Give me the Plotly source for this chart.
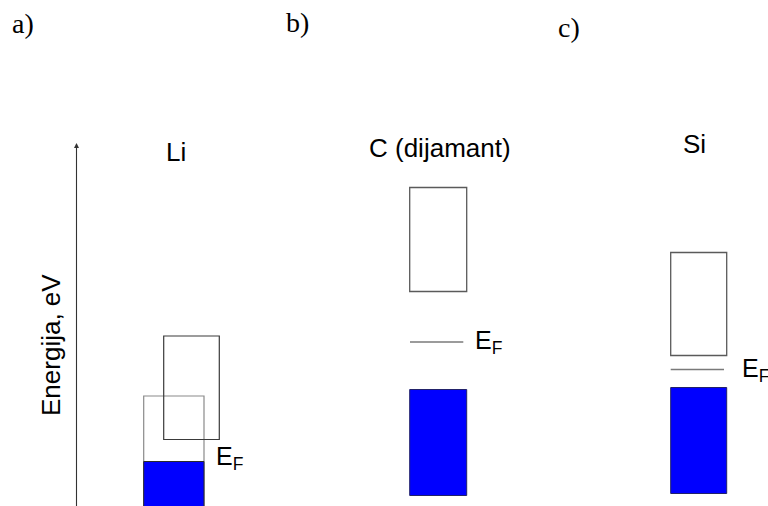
import plotly.graph_objects as go

# ---------------- data (energies in arbitrary units, 0 = bottom of diagram) ----------------
materials = ["Li", "C (dijamant)", "Si"]
panel_tags = ["a)", "b)", "c)"]

# valence (filled / lower) band of each material
valence_bottom = [-0.1, 0.21, 0.25]
valence_top = [2.2, 2.33, 2.37]
# filled part of the valence band (Li half-filled)
filled_top = [0.89, 2.33, 2.37]
# conduction (empty / upper) band
conduction_bottom = [1.33, 4.29, 3.01]
conduction_top = [3.4, 6.37, 5.07]
# Fermi level
fermi_level = [0.89, 3.28, 2.73]

axis_top = 7.26
axis_label = "Energija, eV"

# ---------------- layout constants (pixels on x, energy on y) ----------------
W, H = 768, 506
PX_PER_E = 50.0
Y_MAX = H / PX_PER_E

val_x = [(143.7, 204.0), (409.7, 466.7), (670.7, 726.7)]
cond_x = [(163.7, 219.3), (409.7, 466.7), (670.7, 726.7)]
fermi_line_x = [None, (410.0, 463.3), (670.7, 724.0)]
fermi_label_x = [214, 473, 740]
fermi_label_dy = [0.08, 0.0, 0.0]
name_x = [176, 440, 694]
name_y_px = [152, 148, 144]
tag_x = [23, 297, 569]
tag_y_px = [23, 22, 27]
axis_x = 76.5

BLUE = "#0000ff"
SANS = "Liberation Sans, Arial, sans-serif"
SERIF = "Liberation Serif, Times New Roman, serif"

fig = go.Figure()
shapes = []
annotations = []

for i, m in enumerate(materials):
    vx0, vx1 = val_x[i]
    cx0, cx1 = cond_x[i]
    if i == 0:
        # Li: 2s band partially filled, overlapping 2p band
        shapes.append(dict(type="rect", xref="x", yref="y", x0=vx0, x1=vx1,
                           y0=valence_bottom[i], y1=valence_top[i],
                           line=dict(color="#8a8a8a", width=1.2), fillcolor="rgba(0,0,0,0)"))
        shapes.append(dict(type="rect", xref="x", yref="y", x0=vx0, x1=vx1,
                           y0=valence_bottom[i], y1=filled_top[i],
                           line=dict(color="#2a2a2a", width=1), fillcolor=BLUE))
        shapes.append(dict(type="rect", xref="x", yref="y", x0=cx0, x1=cx1,
                           y0=conduction_bottom[i], y1=conduction_top[i],
                           line=dict(color="#3a3a3a", width=1.2), fillcolor="rgba(0,0,0,0)"))
    else:
        shapes.append(dict(type="rect", xref="x", yref="y", x0=vx0, x1=vx1,
                           y0=valence_bottom[i], y1=filled_top[i],
                           line=dict(color="#22226a", width=1), fillcolor=BLUE))
        shapes.append(dict(type="rect", xref="x", yref="y", x0=cx0, x1=cx1,
                           y0=conduction_bottom[i], y1=conduction_top[i],
                           line=dict(color="#5a5a5a", width=1.3), fillcolor="white"))
        fx0, fx1 = fermi_line_x[i]
        shapes.append(dict(type="line", xref="x", yref="y", x0=fx0, x1=fx1,
                           y0=fermi_level[i], y1=fermi_level[i],
                           line=dict(color="#7a7a7a", width=1.3)))
    # material name
    annotations.append(dict(x=name_x[i], y=(H - name_y_px[i]) / PX_PER_E, xref="x", yref="y",
                            text=m, showarrow=False, xanchor="center", yanchor="middle",
                            font=dict(family=SANS, size=26, color="black")))
    # Fermi label
    annotations.append(dict(x=fermi_label_x[i], y=fermi_level[i] + fermi_label_dy[i],
                            xref="x", yref="y", text="E<sub>F</sub>", showarrow=False,
                            xanchor="left", yanchor="middle",
                            font=dict(family=SANS, size=25, color="black")))
    # panel tag
    annotations.append(dict(x=tag_x[i], y=(H - tag_y_px[i]) / PX_PER_E, xref="x", yref="y",
                            text=panel_tags[i], showarrow=False, xanchor="center", yanchor="middle",
                            font=dict(family=SERIF, size=28, color="black")))

# energy axis with arrow
annotations.append(dict(x=axis_x, y=axis_top, ax=axis_x, ay=-0.2, xref="x", yref="y",
                        axref="x", ayref="y", text="", showarrow=True, arrowhead=2,
                        arrowsize=0.9, arrowwidth=1.1, arrowcolor="#333333"))
annotations.append(dict(x=51, y=(H - 345) / PX_PER_E, xref="x", yref="y", text=axis_label,
                        showarrow=False, textangle=-90, xanchor="center", yanchor="middle",
                        font=dict(family=SANS, size=26, color="black")))

# invisible trace to establish axes
fig.add_trace(go.Scatter(x=[0, W], y=[0, Y_MAX], mode="markers",
                         marker=dict(opacity=0), hoverinfo="skip", showlegend=False))

fig.update_layout(
    width=W, height=H,
    margin=dict(l=0, r=0, t=0, b=0),
    paper_bgcolor="white", plot_bgcolor="white",
    xaxis=dict(range=[0, W], visible=False, fixedrange=True),
    yaxis=dict(range=[0, Y_MAX], visible=False, fixedrange=True),
    shapes=shapes, annotations=annotations, showlegend=False,
)

fig.write_html("out.html", config={"displayModeBar": False},
               post_script="document.body.style.margin='0';document.body.style.overflow='hidden';")
